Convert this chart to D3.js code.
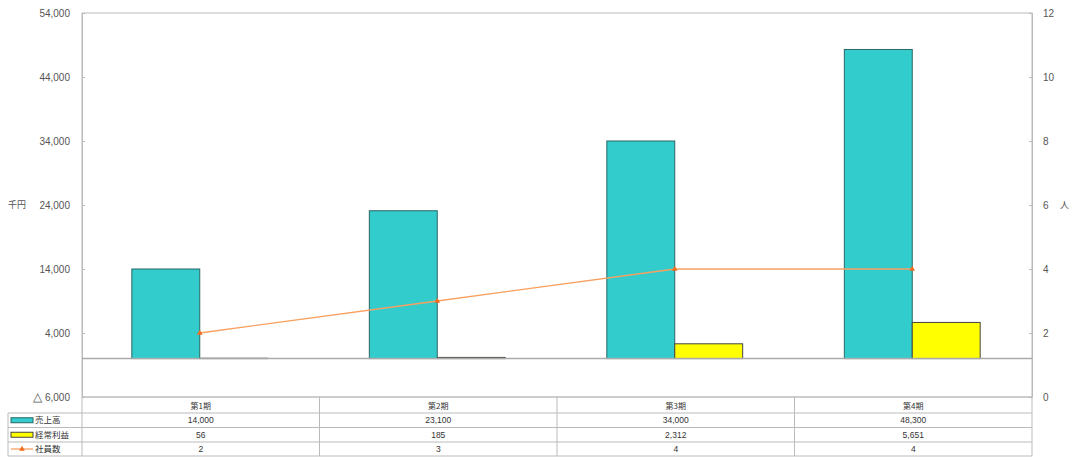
<!DOCTYPE html>
<html>
<head>
<meta charset="utf-8">
<script src="https://cdn.jsdelivr.net/npm/d3@7"></script>
<style>
body { margin: 0; background: #fff; }
text { font-family: "Liberation Sans", Arial, sans-serif; }
.jp { font-family: "Noto Sans CJK JP", sans-serif; }
</style>
</head>
<body>
<div id="chart"></div>
<script>
var periods = ["第1期", "第2期", "第3期", "第4期"];
var sales = [14000, 23100, 34000, 48300];
var profit = [56, 185, 2312, 5651];
var staff = [2, 3, 4, 4];
var leftTicks = [-6000, 4000, 14000, 24000, 34000, 44000, 54000];
var rightTicks = [0, 2, 4, 6, 8, 10, 12];
var seriesNames = ["売上高", "経常利益", "社員数"];

var svgWidth = 1075, svgHeight = 460;
var margin = {top: 13, left: 82, right: 43};
var plotBottom = 397;
var rowH = [16, 14.5, 14.5, 14];

var svg = d3.select("#chart").append("svg")
	.attr("width", svgWidth)
	.attr("height", svgHeight);

var x = d3.scaleBand()
	.domain(periods)
	.range([margin.left, svgWidth - margin.right]);

var y = d3.scaleLinear()
	.domain([-6000, 54000])
	.range([plotBottom, margin.top]);

var y2 = d3.scaleLinear()
	.domain([0, 12])
	.range([plotBottom, margin.top]);

// frame
svg.append("rect")
	.attr("x", margin.left).attr("y", margin.top)
	.attr("width", x.range()[1] - margin.left)
	.attr("height", plotBottom - margin.top)
	.attr("fill", "none").attr("stroke", "#bbb");

// axes
var leftAxis = svg.append("g")
	.attr("transform", "translate(" + margin.left + ",0)")
	.call(d3.axisRight(y).tickValues(leftTicks.slice(1)).tickSize(3).tickFormat(""));
leftAxis.select(".domain").attr("stroke", "#bbb");
leftAxis.selectAll("line").attr("stroke", "#bbb");

var lt = svg.append("g").selectAll("text")
	.data(leftTicks)
	.enter().append("text")
	.attr("x", 70)
	.attr("y", function(d) { return y(d); })
	.attr("dy", "0.35em")
	.attr("text-anchor", "end")
	.attr("font-size", 10)
	.attr("fill", "#555");
lt.each(function(d) {
	var t = d3.select(this);
	if (d < 0) {
		t.append("tspan").attr("font-size", 12).text("△ ");
		t.append("tspan").text(d3.format(",")(-d));
	} else {
		t.text(d3.format(",")(d));
	}
});

svg.append("text").attr("class", "jp")
	.attr("x", 8).attr("y", y(24000)).attr("dy", "0.35em")
	.attr("font-size", 9).attr("fill", "#555")
	.text("千円");

var rightAxis = svg.append("g")
	.attr("transform", "translate(" + x.range()[1] + ",0)")
	.call(d3.axisLeft(y2).tickValues(rightTicks.slice(1, 6)).tickSize(3).tickFormat(""));
rightAxis.select(".domain").attr("stroke", "#bbb");
rightAxis.selectAll("line").attr("stroke", "#bbb");

svg.append("g").selectAll("text")
	.data(rightTicks)
	.enter().append("text")
	.attr("x", 1043)
	.attr("y", function(d) { return y2(d); })
	.attr("dy", "0.35em")
	.attr("font-size", 10)
	.attr("fill", "#555")
	.text(function(d) { return d; });

svg.append("text").attr("class", "jp")
	.attr("x", 1060).attr("y", y2(6)).attr("dy", "0.35em")
	.attr("font-size", 9).attr("fill", "#555")
	.text("人");

var barW = x.bandwidth() * 0.286;
var cx = function(d, i) { return x(periods[i]) + x.bandwidth() / 2 - 1; };

// bars
svg.selectAll(".sales")
	.data(sales)
	.enter().append("rect")
	.attr("x", function(d, i) { return cx(d, i) - barW; })
	.attr("y", function(d) { return y(d); })
	.attr("width", barW)
	.attr("height", function(d) { return y(0) - y(d); })
	.attr("fill", "#33CCCC")
	.attr("stroke", "#2a6666")
	.attr("stroke-width", 1);

svg.selectAll(".profit")
	.data(profit)
	.enter().append("rect")
	.attr("x", function(d, i) { return cx(d, i); })
	.attr("y", function(d) { return y(d); })
	.attr("width", barW)
	.attr("height", function(d) { return y(0) - y(d); })
	.attr("fill", "#FFFF00")
	.attr("stroke", "#444")
	.attr("stroke-width", 1);

// zero line
svg.append("line")
	.attr("x1", margin.left).attr("x2", x.range()[1])
	.attr("y1", y(0)).attr("y2", y(0))
	.attr("stroke", "#aaa").attr("stroke-width", 1.5);

// staff line
var line = d3.line()
	.x(function(d, i) { return cx(d, i); })
	.y(function(d) { return y2(d); });

svg.append("path")
	.datum(staff)
	.attr("fill", "none")
	.attr("stroke", "#F9A060")
	.attr("stroke-width", 1.3)
	.attr("d", line);

svg.selectAll(".pt")
	.data(staff)
	.enter().append("path")
	.attr("transform", function(d, i) { return "translate(" + cx(d, i) + "," + y2(d) + ")"; })
	.attr("d", d3.symbol().type(d3.symbolTriangle).size(14))
	.attr("fill", "#F26B1D");

// data table
var rowY = [plotBottom];
rowH.forEach(function(h, i) { rowY.push(rowY[i] + h); });
var tableRight = x.range()[1];

var tbl = svg.append("g");
rowY.forEach(function(ry, i) {
	tbl.append("line")
		.attr("x1", i >= 1 ? 8 : margin.left).attr("x2", tableRight)
		.attr("y1", ry).attr("y2", ry)
		.attr("stroke", "#bbb");
});
var cols = periods.map(function(p) { return x(p); }).concat([tableRight]);
cols.forEach(function(c) {
	tbl.append("line")
		.attr("x1", c).attr("x2", c)
		.attr("y1", rowY[0]).attr("y2", rowY[4])
		.attr("stroke", "#bbb");
});
tbl.append("line")
	.attr("x1", 8).attr("x2", 8)
	.attr("y1", rowY[1]).attr("y2", rowY[4])
	.attr("stroke", "#bbb");

// header
tbl.selectAll(".hdr")
	.data(periods)
	.enter().append("text")
	.attr("class", "jp")
	.attr("x", function(d) { return x(d) + x.bandwidth() / 2; })
	.attr("y", (rowY[0] + rowY[1]) / 2 + 1)
	.attr("dy", "0.35em")
	.attr("text-anchor", "middle")
	.attr("font-size", 8)
	.attr("fill", "#333")
	.text(function(d) { return d; });

var rows = [sales, profit, staff];
rows.forEach(function(r, ri) {
	var cy = (rowY[ri + 1] + rowY[ri + 2]) / 2;
	tbl.selectAll(".r" + ri)
		.data(r)
		.enter().append("text")
		.attr("x", function(d, i) { return x(periods[i]) + x.bandwidth() / 2; })
		.attr("y", cy)
		.attr("dy", "0.35em")
		.attr("text-anchor", "middle")
		.attr("font-size", 8.5)
		.attr("fill", "#333")
		.text(function(d) { return d3.format(",")(d); });

	tbl.append("text").attr("class", "jp")
		.attr("x", 35).attr("y", cy).attr("dy", "0.35em")
		.attr("font-size", 8.5).attr("fill", "#333")
		.text(seriesNames[ri]);
});

// legend keys
var k1 = (rowY[1] + rowY[2]) / 2, k2 = (rowY[2] + rowY[3]) / 2, k3 = (rowY[3] + rowY[4]) / 2;
tbl.append("rect").attr("x", 11).attr("y", k1 - 2.5).attr("width", 22).attr("height", 5)
	.attr("fill", "#33CCCC").attr("stroke", "#2a6666");
tbl.append("rect").attr("x", 11).attr("y", k2 - 2.5).attr("width", 22).attr("height", 5)
	.attr("fill", "#FFFF00").attr("stroke", "#444");
tbl.append("line").attr("x1", 11).attr("x2", 33).attr("y1", k3).attr("y2", k3)
	.attr("stroke", "#F9A060").attr("stroke-width", 1.3);
tbl.append("path").attr("transform", "translate(22," + k3 + ")")
	.attr("d", d3.symbol().type(d3.symbolTriangle).size(14))
	.attr("fill", "#F26B1D");
</script>
</body>
</html>
